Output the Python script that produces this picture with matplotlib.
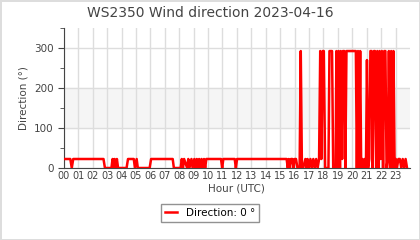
import matplotlib
matplotlib.use("Agg")
import matplotlib.pyplot as plt
from matplotlib.ticker import MultipleLocator

# wind direction readings (hour of day, degrees)
hours = [
    0.0, 0.45, 0.55, 0.65, 2.75, 2.85, 3.3, 3.38, 3.45, 3.52, 3.6, 3.68, 3.76,
    4.35, 4.45, 4.85, 4.93, 5.05, 5.13, 5.4, 5.95, 6.05, 7.55, 7.63,
    8.1, 8.18, 8.26, 8.34, 8.55, 8.63, 8.71, 8.85, 8.93, 9.05, 9.13, 9.22,
    9.3, 9.38, 9.45, 9.55, 9.63, 9.72, 9.8, 9.88, 9.98,
    10.9, 10.98, 11.06, 11.85, 11.93, 12.01,
    15.45, 15.53, 15.6, 15.68, 15.75, 15.85, 15.93, 16.0, 16.1, 16.2,
    16.35, 16.43, 16.51, 16.6, 16.75, 16.83, 16.9, 17.0, 17.1, 17.2, 17.3,
    17.4, 17.5, 17.6, 17.7, 17.78, 17.86, 17.95, 18.03, 18.12,
    18.35, 18.42, 18.6, 18.68, 18.85, 18.9, 18.98, 19.05, 19.15, 19.2,
    19.3, 19.35, 19.45, 19.52, 19.6, 20.25, 20.32, 20.4, 20.47, 20.55,
    20.62, 20.7, 20.78, 20.86, 20.95, 21.02, 21.1, 21.18, 21.26, 21.34,
    21.42, 21.5, 21.58, 21.66, 21.74, 21.82, 21.9, 21.98, 22.06, 22.14,
    22.22, 22.3, 22.38, 22.46, 22.54, 22.62, 22.7, 22.78, 22.86, 22.94,
    23.02, 23.1, 23.2, 23.3, 23.4, 23.5, 23.6, 23.7, 23.8,
]
direction = [
    22.5, 22.5, 0, 22.5, 22.5, 0, 0, 22.5, 0, 22.5, 0, 22.5, 0,
    0, 22.5, 22.5, 0, 22.5, 0, 0, 0, 22.5, 22.5, 0,
    0, 22.5, 0, 22.5, 0, 22.5, 0, 22.5, 0, 22.5, 0, 22.5,
    0, 22.5, 0, 22.5, 0, 22.5, 0, 22.5, 22.5,
    22.5, 0, 22.5, 22.5, 0, 22.5,
    22.5, 0, 22.5, 0, 22.5, 22.5, 0, 22.5, 22.5, 0,
    0, 292.5, 0, 0, 22.5, 0, 22.5, 0, 22.5, 0, 22.5,
    0, 22.5, 0, 22.5, 292.5, 22.5, 292.5, 292.5, 0,
    0, 292.5, 292.5, 0, 0, 292.5, 0, 292.5, 0, 292.5,
    22.5, 292.5, 292.5, 0, 292.5, 292.5, 0, 292.5, 0, 292.5,
    0, 22.5, 0, 22.5, 0, 270, 0, 22.5, 292.5, 292.5,
    0, 292.5, 292.5, 0, 292.5, 0, 292.5, 22.5, 292.5, 0,
    292.5, 292.5, 0, 22.5, 292.5, 0, 292.5, 0, 292.5, 0,
    22.5, 0, 22.5, 22.5, 0, 22.5, 0, 22.5, 0,
]
hour_labels = ["%02d" % h for h in range(24)]

fig = plt.figure(figsize=(4.2, 2.4), dpi=100)
fig.patch.set_edgecolor("#dddddd")
fig.patch.set_linewidth(2)
ax = fig.add_axes([0.152, 0.30, 0.824, 0.583])

ax.axhspan(100, 200, color="#f5f5f5", zorder=0)
ax.plot(hours, direction, color="red", linewidth=1.8, label="Direction: 0 °", zorder=3)

ax.set_xlim(0, 24)
ax.set_ylim(0, 350)
ax.set_xticks(range(24))
ax.set_xticklabels(hour_labels)
ax.yaxis.set_major_locator(MultipleLocator(100))
ax.yaxis.set_minor_locator(MultipleLocator(50))
ax.tick_params(axis="x", length=0, labelsize=7, colors="#444444", pad=2)
ax.tick_params(axis="y", which="major", length=4, labelsize=7.5, colors="#444444")
ax.tick_params(axis="y", which="minor", length=3, colors="#444444")
ax.grid(True, color="#dddddd", linewidth=1)
ax.set_axisbelow(True)
for s in ["top", "right"]:
    ax.spines[s].set_visible(False)
for s in ["left", "bottom"]:
    ax.spines[s].set_color("#444444")

ax.set_xlabel("Hour (UTC)", fontsize=7.5, color="#444444", labelpad=2)
ax.set_ylabel("Direction (°)", fontsize=7.5, color="#444444")
fig.suptitle("WS2350 Wind direction 2023-04-16", fontsize=10, color="#444444", y=0.975)

fig.legend(loc="center", bbox_to_anchor=(0.5, 0.113), fontsize=7.5, frameon=True,
           fancybox=False, edgecolor="#777777", handlelength=1.2)

plt.savefig("out.png", dpi=100, edgecolor=fig.get_edgecolor())
